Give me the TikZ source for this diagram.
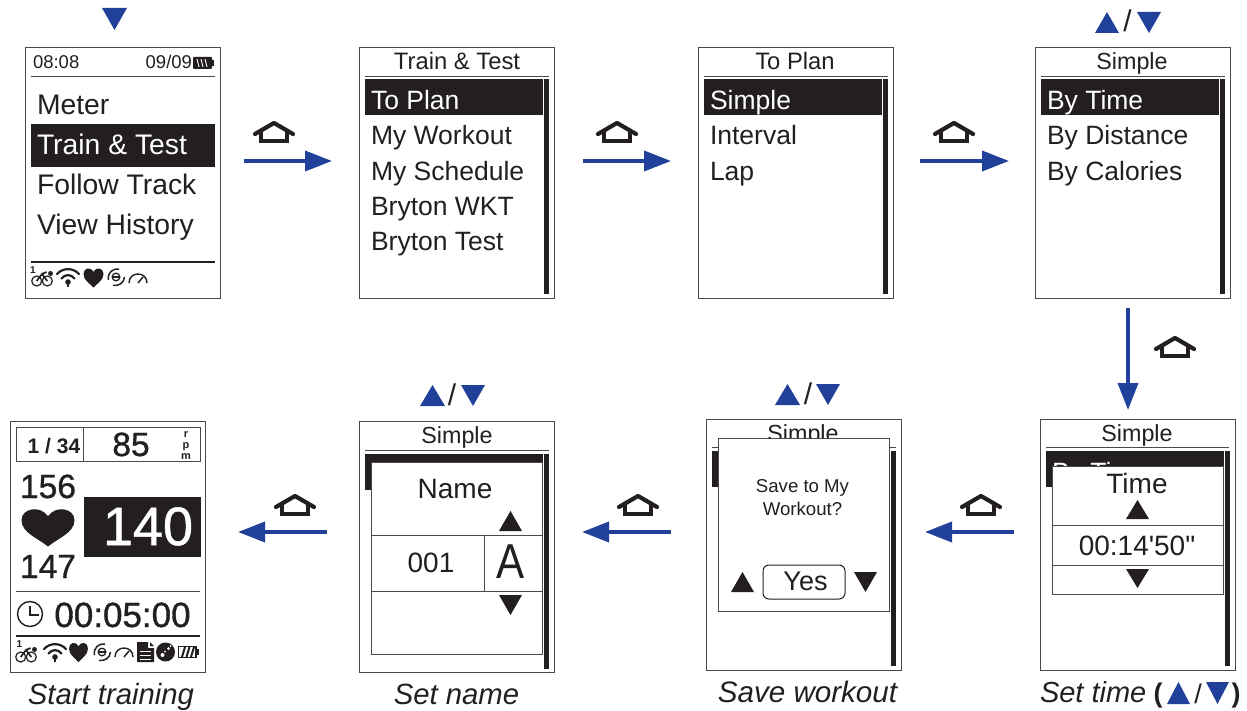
\documentclass[tikz,border=0pt]{standalone}
\usepackage{fontspec}
\setmainfont{Liberation Sans}
\newfontfamily\rawf{Liberation Sans}
\newfontfamily\heavy[FakeBold=1]{Liberation Sans}
\usetikzlibrary{arrows.meta,calc}
\definecolor{ink}{HTML}{231F20}
\definecolor{flowblue}{HTML}{21409A}
\definecolor{framegray}{HTML}{4A4A4A}
\tikzset{
  fs/.style={font=\fontsize{#1}{#1}\selectfont},
  lbl/.style={inner sep=0pt,outer sep=0pt,text=ink,anchor=base},
  screen/.style={draw=framegray,fill=white,line width=1.2pt,minimum width=195pt,minimum height=251pt,anchor=north west,inner sep=0pt},
  flow/.style={draw=flowblue,line width=3.6pt,-{Triangle[length=27pt,width=20pt]},shorten >=0pt},
  dlg/.style={draw=framegray,fill=white,line width=1pt},
  rule/.style={draw=framegray,line width=.9pt},
  homeicon/.pic={
    \draw[ink,line width=4.2pt,line join=round,line cap=round] (-19,2) -- (0,-9) -- (19,2);
    \draw[ink,line width=4pt,line join=miter] (-13,0) -- (-13,9) -- (13,9) -- (13,0);
  },
  bikeicon/.pic={
    \draw[ink,line width=1.2pt] (5.7,12) circle[radius=5] (16.3,12) circle[radius=5];
    \draw[ink,line width=1.7pt] (5.7,12) -- (11,5) -- (16.3,12) (11,5) -- (15.5,3);
    \fill[ink] (19.5,4.5) circle[radius=2.5];
  },
  wifiicon/.pic={
    \draw[ink,line width=2.2pt,line cap=round] (-11,-8) .. controls (-5,-14.5) and (5,-14.5) .. (11,-8);
    \draw[ink,line width=2.2pt,line cap=round] (-6.5,-3.5) .. controls (-3,-8) and (3,-8) .. (6.5,-3.5);
    \fill[ink] (0,0) circle[radius=2.8];
    \draw[ink,line width=2pt] (0,0) -- (0,5);
  },
  hearticon/.pic={
    \fill[ink] (0,1) .. controls (-.35,.6) and (-1,.3) .. (-1,-.35) .. controls (-1,-.95) and (-.3,-1.15) .. (0,-.55) .. controls (.3,-1.15) and (1,-.95) .. (1,-.35) .. controls (1,.3) and (.35,.6) .. (0,1) -- cycle;
  },
  spiralicon/.pic={
    \draw[ink,line width=1.3pt] (0,0) circle[radius=3.8];
    \draw[ink,line width=1.3pt] (-3,0) -- (3.5,0);
    \draw[ink,line width=1.5pt] (-7.5,3) .. controls (-9,-4) and (-3,-9) .. (3,-8);
    \draw[ink,line width=1.5pt] (8.5,0) .. controls (8,6) and (3,9) .. (-3,8.5);
  },
  gaugeicon/.pic={
    \draw[ink,line width=1.4pt] (-9,4) .. controls (-9,-8) and (9,-8) .. (9,4);
    \draw[ink,line width=1.5pt] (0,4) -- (5,-2);
  },
  docicon/.pic={
    \fill[ink] (-8,-10) -- (3,-10) -- (3,-4) -- (9,-4) -- (9,10) -- (-8,10) -- cycle;
    \fill[ink] (5,-10) -- (9,-6) -- (5,-6) -- cycle;
    \draw[white,line width=1pt] (-5,-1) -- (6,-1) (-5,3) -- (6,3) (-5,7) -- (6,7);
  },
  discicon/.pic={
    \fill[ink] (0,0) circle[radius=9.5];
    \fill[white] (-3,3) circle[radius=2] (3,-3.5) circle[radius=1.5] (-.5,-.5) circle[radius=1] (5,-6) circle[radius=1];
  }
}
\newcommand\lab[6][]{\node[lbl,fs=#5,#1] (#2) at (#3,#4) {#6};}
\newcommand\triUp[5]{\fill[#1] (#2,#5) -- (#3,#5) -- ({(#2+#3)/2},#4) -- cycle;}
\newcommand\triDn[5]{\fill[#1] (#2,#4) -- (#3,#4) -- ({(#2+#3)/2},#5) -- cycle;}
\begin{document}
\begin{tikzpicture}[x=1pt,y=-1pt]
\useasboundingbox (0,0) rectangle (1247,711);

%% Screen 1
\triDn{flowblue}{102}{127}{8}{30}
\node[screen] (s1) at (25,47) {};
\lab[anchor=base west]{a1}{33}{69}{18.5}{08:08}
\lab[anchor=base east]{a2}{192}{69}{18.5}{09/09}
\fill[ink,rounded corners=1pt] (193,57) rectangle (212,69);
\fill[ink] (212,60) rectangle (214,66);
\draw[white,line width=.9pt] (197,59) -- (199,67) (201,59) -- (203,67) (205,59) -- (207,67);
\draw[rule] (31,76) -- (215,76);
\lab[anchor=base west]{a3}{37}{115}{28.3}{Meter}
\fill[ink] (31,124) rectangle (215,167);
\lab[anchor=base west,text=white]{a4}{37}{155}{28.3}{Train \& Test}
\lab[anchor=base west]{a5}{37}{195}{28.3}{Follow Track}
\lab[anchor=base west]{a6}{37}{235}{28.3}{View History}
\draw[ink,line width=1.6pt] (31,262) -- (215,262);
\lab[font=\fontsize{10}{10}\selectfont\bfseries]{a7}{33}{273}{10}{1}
\pic at (31,269) {bikeicon};
\pic at (68,282) {wifiicon};
\pic[xscale=10,yscale=10] at (93.5,277.5) {hearticon};
\pic at (116,277) {spiralicon};
\pic at (138,279) {gaugeicon};

%% Screen 2
\node[screen] (s2) at (359,47) {};
\lab{b1}{457}{70}{23.8}{Train \& Test}
\draw[rule] (365,76) -- (549,76);
\fill[ink] (365,79.5) rectangle (543,115);
\fill[ink] (544,79.5) rectangle (549,294);
\lab[anchor=base west,text=white]{b2}{371}{110}{26.5}{To Plan}
\lab[anchor=base west]{b3}{371}{145}{26.5}{My Workout}
\lab[anchor=base west]{b4}{371}{181}{26.5}{My Schedule}
\lab[anchor=base west]{b5}{371}{216}{26.5}{Bryton WKT}
\lab[anchor=base west]{b6}{371}{251}{26.5}{Bryton Test}

%% Screen 3
\node[screen] (s3) at (698,47) {};
\lab{c1}{795}{70}{23.8}{To Plan}
\draw[rule] (704,76) -- (888,76);
\fill[ink] (704,79.5) rectangle (882,115);
\fill[ink] (883,79.5) rectangle (888,294);
\lab[anchor=base west,text=white]{c2}{710}{110}{26.5}{Simple}
\lab[anchor=base west]{c3}{710}{145}{26.5}{Interval}
\lab[anchor=base west]{c4}{710}{181}{26.5}{Lap}

%% Screen 4
\triUp{flowblue}{1095}{1119}{12}{33}
\lab{d0}{1127.5}{32}{30}{/}
\triDn{flowblue}{1137}{1161}{12}{33}
\node[screen] (s4) at (1035,47) {};
\lab{d1}{1132}{70}{23.3}{Simple}
\draw[rule] (1041,76) -- (1225,76);
\fill[ink] (1041,79.5) rectangle (1219,115);
\fill[ink] (1220,79.5) rectangle (1225,294);
\lab[anchor=base west,text=white]{d2}{1047}{110}{26.5}{By Time}
\lab[anchor=base west]{d3}{1047}{145}{26.5}{By Distance}
\lab[anchor=base west]{d4}{1047}{181}{26.5}{By Calories}

%% Screen 5: set time
\node[screen] (s5) at (1040,419) {};
\lab{e1}{1137}{441}{23.3}{Simple}
\draw[rule,line width=.8pt] (1046,447) -- (1229,447);
\fill[ink] (1046,451) rectangle (1224,487);
\fill[ink] (1225,451) rectangle (1230,666);
\begin{scope}
\clip (1046,451) rectangle (1224,466);
\lab[anchor=base west,text=white]{e2}{1052}{481}{26.5}{By Time}
\end{scope}
\draw[dlg] (1052,466) rectangle (1223,594);
\draw[rule] (1052,525) -- (1223,525) (1052,565) -- (1223,565);
\lab{e3}{1137}{493}{28}{Time}
\triUp{ink}{1126}{1149}{500}{519}
\lab{e4}{1137}{555}{28}{\rawf 00:14'50"}
\triDn{ink}{1126}{1149}{569}{588}
\lab[anchor=base west]{e5}{1040}{702}{29}{\itshape Set time}
\lab{e6}{1158}{702}{27}{\bfseries (}
\triUp{flowblue}{1167}{1190}{682}{704}
\lab{e7}{1198}{703}{27}{/}
\triDn{flowblue}{1206}{1229}{682}{704}
\lab{e8}{1236}{702}{27}{\bfseries )}

%% Screen 6: save workout
\triUp{flowblue}{775}{800}{384}{405}
\lab{f0}{808}{404}{30}{/}
\triDn{flowblue}{816}{840}{384}{405}
\node[screen] (s6) at (706,419) {};
\begin{scope}
\clip (706,419) rectangle (901,438);
\lab{f1}{803}{441}{23.3}{Simple}
\end{scope}
\draw[rule,line width=.8pt] (712,447) -- (896,447);
\fill[ink] (712,451) rectangle (888,487);
\fill[ink] (891,451) rectangle (896,666);
\draw[dlg] (718,438) rectangle (889,611);
\lab{f2}{802.5}{492}{18.6}{Save to My}
\lab{f3}{802.5}{515}{18.6}{Workout?}
\draw[draw=ink,line width=1pt,rounded corners=6pt] (763,565) rectangle (845,599);
\lab{f4}{805.5}{590}{27}{Yes}
\triUp{ink}{731}{754}{572}{592}
\triDn{ink}{854}{877}{572}{592}
\lab{f5}{807.5}{702}{29.6}{\itshape Save workout}

%% Screen 7: set name
\triUp{flowblue}{420}{445}{385}{406}
\lab{g0}{452}{405}{30}{/}
\triDn{flowblue}{461}{485}{385}{406}
\node[screen] (s7) at (359,421) {};
\lab{g1}{457}{443}{23.3}{Simple}
\draw[rule,line width=.8pt] (365,450) -- (549,450);
\fill[ink] (365,454) rectangle (543,490);
\fill[ink] (544,454) rectangle (549,669);
\draw[dlg] (371,462) rectangle (542,654);
\draw[rule] (371,535) -- (542,535) (371,591) -- (542,591) (484,535) -- (484,591);
\lab{g2}{455}{498}{28}{Name}
\lab{g3}{431}{572}{28}{001}
\node[lbl,fs=49,xscale=.86] (g4) at (511,578) {A};
\triUp{ink}{499}{522}{511}{531}
\triDn{ink}{499}{522}{595}{615}
\lab{g5}{456.5}{704}{29.3}{\itshape Set name}

%% Screen 8: start training
\node[screen] (s8) at (10,421) {};
\draw[rule] (16,427) rectangle (200,461) (83.5,427) -- (83.5,461);
\lab{h1}{54}{453}{21}{\bfseries 1 / 34}
\lab{h2}{131}{456}{33.5}{\heavy 85}
\lab[font=\fontsize{11}{11}\selectfont\bfseries]{h3}{186}{437}{11}{r}
\lab[font=\fontsize{11}{11}\selectfont\bfseries]{h4}{186}{448}{11}{p}
\lab[font=\fontsize{11}{11}\selectfont\bfseries]{h5}{186}{459}{11}{m}
\lab{h6}{48}{498}{33.5}{\heavy 156}
\pic[xscale=26.5,yscale=19.5] at (48,527) {hearticon};
\lab{h7}{48}{578}{33.5}{\heavy 147}
\fill[ink] (84,497) rectangle (201,557);
\lab[text=white]{h8}{148}{545}{54}{\heavy 140}
\draw[rule] (16,591) -- (200,591);
\draw[ink,line width=1.4pt] (30,614) circle[radius=12.5];
\draw[ink,line width=1.6pt] (30,606) -- (30,615) -- (39,615);
\lab{h9}{122.5}{627}{35}{\heavy 00:05:00}
\draw[ink,line width=1.6pt] (16,636) -- (200,636);
\lab[font=\fontsize{10}{10}\selectfont\bfseries]{h10}{19.5}{647}{10}{1}
\pic at (15,645) {bikeicon};
\pic at (55,657) {wifiicon};
\pic[xscale=9.5,yscale=10] at (78.5,652) {hearticon};
\pic at (102,652) {spiralicon};
\pic at (124,653) {gaugeicon};
\pic at (145,652) {docicon};
\pic at (165.5,652) {discicon};
\draw[ink,line width=1.6pt] (178.5,646.5) rectangle (196,657.5);
\fill[ink] (196.5,649) rectangle (198.5,655);
\draw[ink,line width=2pt] (182,657) -- (185,647) (186.5,657) -- (189.5,647) (191,657) -- (194,647);
\lab{h11}{111}{704}{29.3}{\itshape Start training}

%% Flow connectors
\coordinate (p1a) at (244,161); \coordinate (p1b) at (332,161);
\coordinate (p2a) at (583,161); \coordinate (p2b) at (671,161);
\coordinate (p3a) at (920,161); \coordinate (p3b) at (1009,161);
\coordinate (p4a) at (1128,308); \coordinate (p4b) at (1128,410);
\coordinate (p5a) at (1014,532); \coordinate (p5b) at (925,532);
\coordinate (p6a) at (671,532); \coordinate (p6b) at (582,532);
\coordinate (p7a) at (327,532); \coordinate (p7b) at (238,532);
\foreach \n in {1,...,7} {\draw[flow] (p\n a) -- (p\n b);}

%% Home keys
\pic at (274,132) {homeicon};
\pic at (617,132) {homeicon};
\pic at (954,132) {homeicon};
\pic at (1175,347) {homeicon};
\pic at (981,505) {homeicon};
\pic at (638,505) {homeicon};
\pic at (295,505) {homeicon};
\end{tikzpicture}
\end{document}
